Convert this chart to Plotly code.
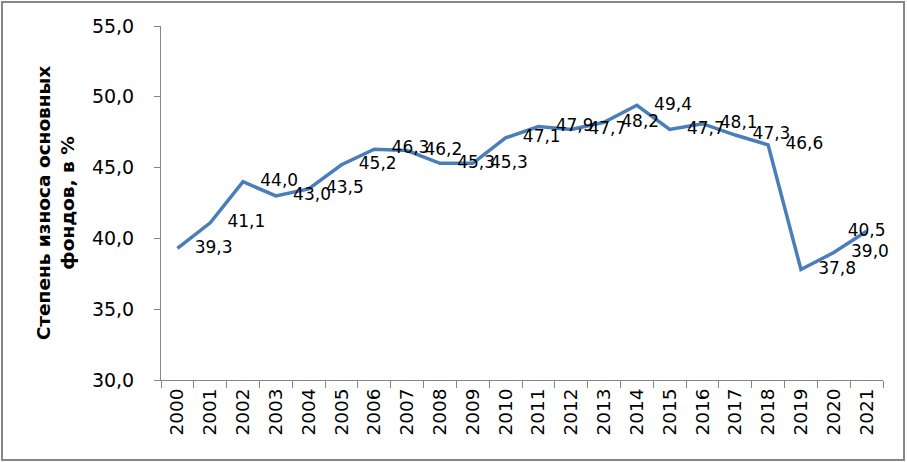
import plotly.graph_objects as go

years = ["2000", "2001", "2002", "2003", "2004", "2005", "2006", "2007", "2008", "2009", "2010",
         "2011", "2012", "2013", "2014", "2015", "2016", "2017", "2018", "2019", "2020", "2021"]
wear = [39.3, 41.1, 44.0, 43.0, 43.5, 45.2, 46.3, 46.2, 45.3, 45.3, 47.1,
        47.9, 47.7, 48.2, 49.4, 47.7, 48.1, 47.3, 46.6, 37.8, 39.0, 40.5]
y_title = "Степень износа основных<br>фондов, в %"

labels = [f"{v:.1f}".replace(".", ",") for v in wear]
positions = ["middle right"] * (len(wear) - 1) + ["middle center"]

W, H = 907, 462
ml, mr, mt, mb = 161, 24, 26, 82
pw, ph = W - ml - mr, H - mt - mb

fig = go.Figure()
fig.add_trace(go.Scatter(
    x=years, y=wear, mode="lines+markers+text",
    line=dict(color="#4A7EBB", width=3.5),
    marker=dict(size=26, color="rgba(0,0,0,0)"),
    text=labels, textposition=positions,
    textfont=dict(family="DejaVu Sans", size=17, color="#000000"),
    cliponaxis=False, hoverinfo="skip", showlegend=False,
))

fig.update_layout(
    width=W, height=H,
    margin=dict(l=ml, r=mr, t=mt, b=mb, autoexpand=False),
    paper_bgcolor="white", plot_bgcolor="white",
    separators=", ",
    font=dict(family="DejaVu Sans", color="#000000"),
    xaxis=dict(
        type="category", range=[-0.5, len(years) - 0.5], automargin=False,
        showline=True, linecolor="#868686", linewidth=1,
        ticks="outside", ticklen=7, tickcolor="#868686", tickson="boundaries",
        tickangle=-90, tickfont=dict(size=18.5), showgrid=False, zeroline=False,
        fixedrange=True,
    ),
    yaxis=dict(
        range=[30, 55], dtick=5, tickformat=".1f", automargin=False,
        showline=True, linecolor="#868686", linewidth=1,
        ticks="outside", ticklen=6, tickcolor="#868686",
        tickfont=dict(size=19), ticklabelstandoff=16,
        showgrid=False, zeroline=False,
        title=dict(text=y_title, font=dict(size=18.5, weight="bold"), standoff=12),
    ),
    shapes=[dict(
        type="rect", xref="paper", yref="paper",
        x0=(2 - ml) / pw, x1=(W - 3 - ml) / pw,
        y0=(H - mb - (H - 2)) / ph, y1=(H - mb - 2) / ph,
        line=dict(color="#868686", width=2), fillcolor="rgba(0,0,0,0)",
    )],
)

fig.write_html(
    "out.html",
    config={"displayModeBar": False},
    post_script="document.body.style.margin='0';document.body.style.overflow='hidden';",
)
